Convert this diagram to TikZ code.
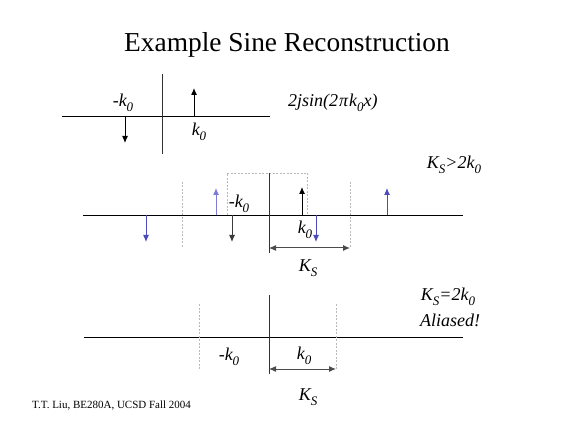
\documentclass[tikz,border=0pt]{standalone}
\usepackage{fontspec}
\setmainfont{Liberation Serif}
\usetikzlibrary{arrows.meta}
\definecolor{sblue}{RGB}{75,75,190}
\definecolor{lblue}{RGB}{125,125,215}
\definecolor{dgray}{RGB}{60,60,60}
\newcommand\sbs[1]{\raisebox{-0.28em}{\fontsize{13}{13}\selectfont #1}}
\begin{document}
\begin{tikzpicture}[x=1pt,y=-1pt,
  axis/.style={line width=0.8pt,black},
  vline/.style={line width=0.8pt,black!80},
  guide/.style={gray!55,dash pattern=on 2pt off 1.5pt,line width=0.6pt},
  spike/.style={line width=1pt,-{Latex[length=7pt,width=6pt]}},
  ksarrow/.style={line width=1pt,black!70,{Latex[length=7pt,width=6pt]}-{Latex[length=7pt,width=6pt]}},
  lab/.style={font=\fontsize{18}{18}\selectfont\itshape,inner sep=0pt},
  title/.style={font=\fontsize{27.4}{28}\selectfont,inner sep=0pt},
  foot/.style={font=\fontsize{11}{12}\selectfont,inner sep=0pt}]
\useasboundingbox (0,0) rectangle (564,427);

% title
\node[title,anchor=base] (ttl) at (287,52) {Example Sine Reconstruction};

% ---------- top diagram ----------
\coordinate (ta1) at (62,116); \coordinate (ta2) at (270,116);
\coordinate (tv1) at (162,74); \coordinate (tv2) at (162,154);
\coordinate (tu0) at (194,116); \coordinate (tu1) at (194,88);
\coordinate (td0) at (125,116); \coordinate (td1) at (125,143);
\draw[axis] (ta1) -- (ta2);
\draw[vline] (tv1) -- (tv2);
\draw[spike] (tu0) -- (tu1);
\draw[spike] (td0) -- (td1);
\node[lab] (tmk) at (123,103) {-k\sbs{0}};
\node[lab] (tk) at (199,132) {k\sbs{0}};
\node[lab,anchor=west] (fn) at (288,103) {2jsin(2\kern1pt π\kern1pt k\sbs{0}x)};

% ---------- middle diagram ----------
\coordinate (ma1) at (83,215); \coordinate (ma2) at (463,215);
\coordinate (mv1) at (269,173); \coordinate (mv2) at (269,253);
\draw[axis] (ma1) -- (ma2);
\coordinate (bx1) at (227,215); \coordinate (bx2) at (227,173);
\coordinate (bx3) at (307,173); \coordinate (bx4) at (307,215);
\draw[guide] (bx1) -- (bx2) -- (bx3) -- (bx4);
\coordinate (mg1a) at (182,182); \coordinate (mg1b) at (182,247);
\coordinate (mg2a) at (350,182); \coordinate (mg2b) at (350,247);
\draw[guide] (mg1a) -- (mg1b);
\draw[guide] (mg2a) -- (mg2b);
\draw[vline] (mv1) -- (mv2);
% spikes
\coordinate (s1a) at (146,215); \coordinate (s1b) at (146,242);
\coordinate (s2a) at (216,215); \coordinate (s2b) at (216,188);
\coordinate (s3a) at (232,215); \coordinate (s3b) at (232,242);
\coordinate (s4a) at (302,215); \coordinate (s4b) at (302,187);
\coordinate (s5a) at (316,215); \coordinate (s5b) at (316,242);
\coordinate (s6a) at (387,215); \coordinate (s6b) at (387,188);
\draw[spike,sblue] (s1a) -- (s1b);
\draw[spike,lblue] (s2a) -- (s2b);
\draw[spike,dgray] (s3a) -- (s3b);
\draw[spike,black] (s4a) -- (s4b);
\draw[spike,sblue] (s5a) -- (s5b);
\draw[spike,sblue] (s6a) -- (s6b);
\coordinate (mks1) at (269,248); \coordinate (mks2) at (350,248);
\draw[ksarrow] (mks1) -- (mks2);
\node[lab] (mmk) at (239,204) {-k\sbs{0}};
\node[lab] (mk) at (305,230) {k\sbs{0}};
\node[lab] (mks) at (308,268) {K\sbs{S}};
\node[lab] (mcond) at (454,165) {K\sbs{S}>2k\sbs{0}};

% ---------- bottom diagram ----------
\coordinate (ba1) at (84,337); \coordinate (ba2) at (463,337);
\coordinate (bv1) at (269,295); \coordinate (bv2) at (269,374);
\coordinate (bg1a) at (199,304); \coordinate (bg1b) at (199,369);
\coordinate (bg2a) at (336,304); \coordinate (bg2b) at (336,369);
\draw[axis] (ba1) -- (ba2);
\draw[guide] (bg1a) -- (bg1b);
\draw[guide] (bg2a) -- (bg2b);
\draw[vline] (bv1) -- (bv2);
\coordinate (bks1) at (269,369); \coordinate (bks2) at (336,369);
\draw[ksarrow] (bks1) -- (bks2);
\node[lab] (bmk) at (229,357) {-k\sbs{0}};
\node[lab] (bk) at (304,356) {k\sbs{0}};
\node[lab] (bks) at (308,397) {K\sbs{S}};
\node[lab] (bcond) at (448,297) {K\sbs{S}=2k\sbs{0}};
\node[lab] (alias) at (450,320) {Aliased!};

% footer
\node[foot,anchor=west] (ft) at (32,406) {T.T. Liu, BE280A, UCSD Fall 2004};
\end{tikzpicture}
\end{document}
